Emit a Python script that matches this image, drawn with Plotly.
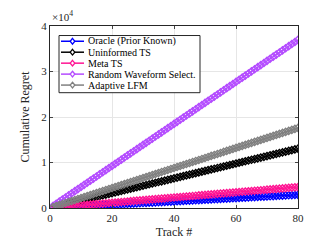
import plotly.graph_objects as go

tracks = list(range(1, 81))

oracle = [36,73,109,145,181,218,254,290,326,363,399,435,471,508,544,580,616,653,689,725,
          761,798,834,870,906,943,979,1015,1051,1088,1124,1160,1196,1233,1269,1305,1341,1378,1414,1450,
          1486,1523,1559,1595,1631,1668,1704,1740,1776,1813,1849,1885,1921,1958,1994,2030,2066,2103,2139,2175,
          2211,2248,2284,2320,2356,2393,2429,2465,2501,2538,2574,2610,2646,2683,2719,2755,2791,2828,2864,2900]

uninformed = [160,325,488,651,814,977,1140,1303,1466,1629,1792,1955,2118,2281,2444,2607,2770,2933,3096,3259,
              3422,3585,3748,3911,4074,4237,4400,4563,4726,4889,5052,5215,5378,5541,5704,5867,6030,6193,6356,6519,
              6682,6845,7008,7171,7334,7497,7660,7823,7986,8149,8312,8475,8638,8801,8964,9127,9290,9453,9616,9779,
              9942,10105,10268,10431,10594,10757,10920,11083,11246,11409,11572,11735,11898,12061,12224,12387,12550,12713,12876,13039]

meta = [58,116,173,231,288,346,403,461,518,576,633,691,748,806,863,921,978,1036,1093,1151,
        1208,1266,1323,1381,1438,1496,1553,1611,1668,1726,1783,1841,1898,1956,2013,2071,2128,2186,2243,2301,
        2358,2416,2473,2531,2588,2646,2703,2761,2818,2876,2933,2991,3048,3106,3163,3221,3278,3336,3393,3451,
        3508,3566,3623,3681,3738,3796,3853,3911,3968,4026,4083,4141,4198,4256,4313,4371,4428,4486,4543,4601]

random_wf = [462,925,1388,1850,2311,2774,3236,3699,4160,4622,5083,5546,6008,6470,6931,7394,7855,8318,8780,9241,
             9703,10166,10628,11089,11551,12014,12475,12937,13399,13860,14323,14785,15246,15709,16170,16632,17095,17556,18018,18480,
             18942,19404,19865,20328,20790,21251,21713,22176,22637,23099,23561,24023,24485,24946,25409,25870,26333,26794,27256,27719,
             28180,28642,29104,29566,30028,30490,30951,31414,31875,32338,32799,33261,33723,34185,34647,35108,35571,36032,36495,36957]

adaptive = [218,440,661,880,1101,1320,1541,1760,1981,2200,2420,2641,2860,3081,3300,3520,3741,3960,4180,4401,
            4620,4840,5061,5280,5500,5721,5940,6160,6380,6601,6820,7040,7261,7480,7700,7920,8141,8360,8580,8800,
            9021,9240,9460,9680,9901,10120,10340,10560,10781,11000,11220,11441,11660,11880,12100,12321,12540,12760,12980,13201,
            13420,13640,13860,14081,14300,14520,14741,14960,15180,15400,15621,15840,16060,16280,16501,16720,16940,17160,17381,17600]

series_names = ["Oracle (Prior Known)", "Uninformed TS", "Meta TS", "Random Waveform Select.", "Adaptive LFM"]
series_values = [oracle, uninformed, meta, random_wf, adaptive]
series_colors = ["#0000ff", "#000000", "#ff1493", "#b44cff", "#808080"]

x_ticks = [0, 20, 40, 60, 80]
y_ticks = [0, 10000, 20000, 30000, 40000]
y_tick_labels = ["0", "1", "2", "3", "4"]

FONT = "Liberation Serif"

W, H = 321, 241
ML, MR, MT, MB = 42, 31, 17, 33
PW, PH = W - ML - MR, H - MT - MB

def px(xp):
    return (xp - ML) / PW

def py(yp):
    return (H - MB - yp) / PH

fig = go.Figure()
for name, vals, col in zip(series_names, series_values, series_colors):
    fig.add_trace(go.Scatter(
        x=tracks, y=vals, name=name, mode="lines+markers", showlegend=False,
        line=dict(color=col, width=1.5),
        marker=dict(symbol="diamond-open", size=5.5, color=col, line=dict(width=1.4, color=col)),
    ))

shapes = [dict(type="rect", xref="paper", yref="paper",
               x0=px(51), x1=px(192), y0=py(87), y1=py(27),
               line=dict(color="#262626", width=1), fillcolor="white", layer="above")]
annotations = []
row_y = [33, 44.5, 56, 67.5, 79]
for name, col, ry in zip(series_names, series_colors, row_y):
    shapes.append(dict(type="line", xref="paper", yref="paper",
                       x0=px(53), x1=px(76), y0=py(ry), y1=py(ry),
                       line=dict(color=col, width=1.5), layer="above"))
    cx, cy, hx, hy = 64.5, ry, 2.3, 3.0
    path = "M {:.4f},{:.4f} L {:.4f},{:.4f} L {:.4f},{:.4f} L {:.4f},{:.4f} Z".format(
        px(cx), py(cy - hy), px(cx + hx), py(cy), px(cx), py(cy + hy), px(cx - hx), py(cy))
    shapes.append(dict(type="path", xref="paper", yref="paper", path=path,
                       line=dict(color=col, width=1.3), fillcolor="white", layer="above"))
    annotations.append(dict(text=name, x=px(77.5), y=py(ry), xref="paper", yref="paper",
                            xanchor="left", yanchor="middle", showarrow=False,
                            font=dict(family=FONT, size=10, color="#000000")))

annotations.append(dict(
    text="×10<sup>4</sup>", x=0, y=1.0, xref="paper", yref="paper",
    xanchor="left", yanchor="bottom", showarrow=False, yshift=1,
    font=dict(family=FONT, size=11, color="#262626"),
))

fig.update_layout(
    width=W, height=H,
    margin=dict(l=ML, r=MR, t=MT, b=MB),
    paper_bgcolor="white", plot_bgcolor="white",
    font=dict(family=FONT, size=11, color="#262626"),
    showlegend=False,
    xaxis=dict(
        range=[0, 80], tickvals=x_ticks, ticks="inside", ticklen=3,
        showgrid=True, gridcolor="#e6e6e6", gridwidth=1,
        showline=True, linecolor="#262626", linewidth=1, mirror="ticks",
        zeroline=False,
        title=dict(text="Track #", font=dict(family=FONT, size=12), standoff=4),
        tickfont=dict(family=FONT, size=11),
    ),
    yaxis=dict(
        range=[0, 40000], tickvals=y_ticks, ticktext=y_tick_labels, ticks="inside", ticklen=3,
        showgrid=True, gridcolor="#e6e6e6", gridwidth=1,
        showline=True, linecolor="#262626", linewidth=1, mirror="ticks",
        zeroline=False,
        title=dict(text="Cumulative Regret", font=dict(family=FONT, size=12), standoff=9),
        tickfont=dict(family=FONT, size=11),
    ),
    shapes=shapes,
    annotations=annotations,
)

fig.write_html("out.html")
